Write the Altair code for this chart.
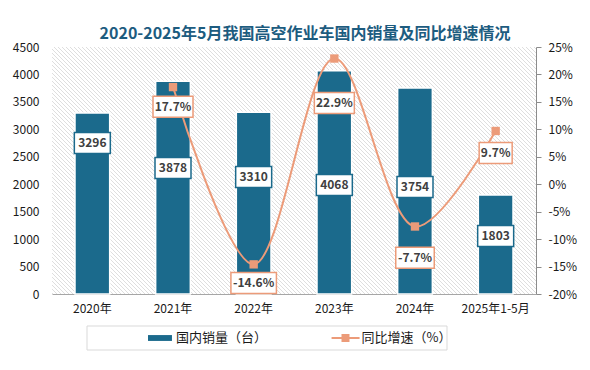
import altair as alt
import pandas as pd

# ---------------- data ----------------
years = ["2020年", "2021年", "2022年", "2023年", "2024年", "2025年1-5月"]
sales = [3296, 3878, 3310, 4068, 3754, 1803]
growth = [None, 17.7, -14.6, 22.9, -7.7, 9.7]
# where the data labels sit (in axis units)
sales_label_at = [2751, 2296, 2132, 1986, 1949, 1057]
growth_label_at = [None, 14.1, -18.0, 14.8, -13.4, 5.7]
series = ["国内销量（台）", "同比增速（%）"]
left_ticks = [0, 500, 1000, 1500, 2000, 2500, 3000, 3500, 4000, 4500]
right_ticks = [-20, -15, -10, -5, 0, 5, 10, 15, 20, 25]

BLUE = "#1b6a8c"
ORANGE = "#ec9b79"
FONT = "Noto Sans CJK SC"
W, H = 484, 247

df = pd.DataFrame({"year": years, "sales": sales, "slab": sales_label_at,
                   "series": series[0]})
gdf = pd.DataFrame({"year": years, "growth": growth, "glab": growth_label_at,
                    "series": series[1]}).dropna()

xs = alt.Scale(domain=years, paddingInner=0, paddingOuter=0)
xp = alt.Scale(domain=years)
ys = alt.Scale(domain=[0, 4500], nice=False, zero=True)
yg = alt.Scale(domain=[-20, 25], nice=False, zero=False)

# legend swatches drawn to the right of the symbol origin, leaving blank room on the left
legend = alt.Legend(
    title=None, orient="none", legendX=35, legendY=271, direction="horizontal",
    symbolType={"expr": "datum.index == 1 ? "
                        "'M2.79,-0.08H4.79V0.08H2.79ZM3.5,-0.29H4.07V0.29H3.5Z' : "
                        "'M2.93,-0.21H4.64V0.21H2.93Z'"},
    symbolSize=784, labelOffset=55, columnPadding=10.5,
    padding=6, labelFont=FONT, labelFontSize=13,
    labelColor="#1a1a1a", symbolStrokeWidth=0, symbolOpacity=1,
)
color_scale = alt.Scale(domain=series, range=[BLUE, ORANGE])

# ---------------- hatch background ----------------
hatch = alt.Chart(alt.sequence(-250, 490, 4, as_="k")).transform_calculate(
    k2="datum.k + 247"
).mark_rule(color="#dedede", strokeWidth=1, clip=True).encode(
    x=alt.X("k:Q", scale=alt.Scale(domain=[0, W], nice=False, zero=False), axis=None),
    x2="k2:Q",
    y=alt.value(0),
    y2=alt.value(H),
)

# frame around the legend
legend_frame = alt.Chart(alt.sequence(0, 1, 1, as_="f")).mark_rect(
    filled=False, stroke="#d9d9d9", strokeWidth=1
).encode(
    x=alt.value(35), x2=alt.value(395), y=alt.value(279), y2=alt.value(303),
)

# ---------------- bars ----------------
bars = alt.Chart(df).mark_bar(width={"band": 0.43}, stroke="white", strokeWidth=1.5).encode(
    x=alt.X("year:N", scale=xs, sort=years, title=None,
            axis=alt.Axis(labelAngle=0, ticks=False, domainColor="#a6a6a6", labelPadding=9,
                          labelFont=FONT, labelFontSize=12, labelColor="#1a1a1a", grid=False)),
    y=alt.Y("sales:Q", scale=ys, title=None,
            axis=alt.Axis(values=left_ticks, format="d", domain=False, ticks=False, labelPadding=13,
                          labelFont=FONT, labelFontSize=12, labelColor="#1a1a1a", grid=False)),
    color=alt.Color("series:N", scale=color_scale, legend=legend),
)

width_expr = ("7*length(replace(datum.t, regexp('[^0-9]','g'), '')) + "
              "5.5*length(replace(datum.t, regexp('[0-9]','g'), '')) + 8")
path_expr = "'M' + (-datum.w/2) + ',-10.5H' + (datum.w/2) + 'V10.5H' + (-datum.w/2) + 'Z'"
pct_expr = "replace(format(datum.growth, '.1f'), '\u2212', '-') + '%'"

bar_box = alt.Chart(df).transform_calculate(
    t="format(datum.sales, 'd')"
).transform_calculate(w=width_expr).transform_calculate(p=path_expr).mark_point(
    filled=True, fill="white", stroke=BLUE, strokeWidth=1.5, size=4, opacity=1
).encode(
    x=alt.X("year:N", scale=xp, axis=None),
    y=alt.Y("slab:Q", scale=ys, axis=None),
    shape=alt.Shape("p:N", scale=None, legend=None),
)
bar_text = alt.Chart(df).mark_text(
    font=FONT, fontSize=12, fontWeight="bold", color="#404040", baseline="middle"
).encode(
    x=alt.X("year:N", scale=xp, axis=None),
    y=alt.Y("slab:Q", scale=ys, axis=None),
    text=alt.Text("sales:Q", format="d"),
)

# ---------------- growth line ----------------
line = alt.Chart(gdf).mark_line(interpolate="catmull-rom", strokeWidth=2).encode(
    x=alt.X("year:N", scale=xp, axis=None),
    y=alt.Y("growth:Q", scale=yg, title=None,
            axis=alt.Axis(orient="right", values=right_ticks, labelExpr="datum.value + '%'",
                          domainColor="#8c8c8c", tickColor="#8c8c8c", tickSize=5,
                          labelPadding=7, labelFont=FONT, labelFontSize=12,
                          labelColor="#1a1a1a", grid=False)),
    color=alt.Color("series:N", scale=color_scale, legend=legend),
)
points = alt.Chart(gdf).mark_point(shape="square", filled=True, size=70, color=ORANGE, opacity=1).encode(
    x=alt.X("year:N", scale=xp, axis=None),
    y=alt.Y("growth:Q", scale=yg, axis=None),
)
g_box = alt.Chart(gdf).transform_calculate(
    t=pct_expr
).transform_calculate(w=width_expr).transform_calculate(p=path_expr).mark_point(
    filled=True, fill="white", stroke=ORANGE, strokeWidth=1.5, size=4, opacity=1
).encode(
    x=alt.X("year:N", scale=xp, axis=None),
    y=alt.Y("glab:Q", scale=yg, axis=None),
    shape=alt.Shape("p:N", scale=None, legend=None),
)
g_text = alt.Chart(gdf).transform_calculate(
    t=pct_expr
).mark_text(
    font=FONT, fontSize=12, fontWeight="bold", color="#404040", baseline="middle"
).encode(
    x=alt.X("year:N", scale=xp, axis=None),
    y=alt.Y("glab:Q", scale=yg, axis=None),
    text="t:N",
)

chart = alt.layer(
    hatch, legend_frame, bars, bar_box, bar_text, line, points, g_box, g_text
).resolve_scale(
    x="independent", y="independent"
).properties(
    width=W, height=H,
    padding={"left": 44, "top": 39, "right": 46, "bottom": 68},
    autosize=alt.AutoSizeParams(type="none"),
    background="white",
    title=alt.TitleParams(
        "2020-2025年5月我国高空作业车国内销量及同比增速情况",
        font=FONT, fontSize=16, fontWeight="bold", color="#1d5c7f",
        anchor="middle", frame="group", dx=11, dy=18, baseline="bottom", offset=1,
    ),
).configure_view(stroke=None)

chart.save("out.html", embed_options={"renderer": "svg", "actions": False})
